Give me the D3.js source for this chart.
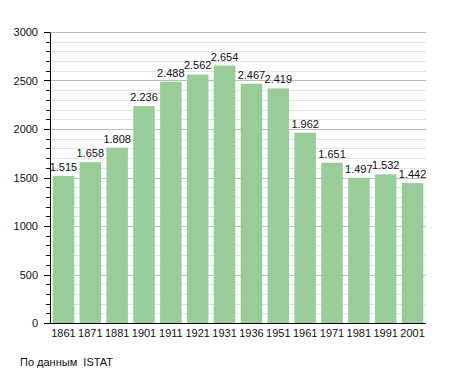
<!DOCTYPE html>
<html>
<head>
<meta charset="utf-8">
<script src="https://cdn.jsdelivr.net/npm/d3@7"></script>
<style>
  body { margin: 0; background: #fff; }
  svg text { font-family: "Liberation Sans", Arial, sans-serif; fill: #111; }
</style>
</head>
<body>
<div id="chart"></div>
<script>
// population by census year
var years = ["1861","1871","1881","1901","1911","1921","1931","1936","1951","1961","1971","1981","1991","2001"];
var population = [1515,1658,1808,2236,2488,2562,2654,2467,2419,1962,1651,1497,1532,1442];
var yTicks = [0,500,1000,1500,2000,2500,3000];
var sourceText = "По данным  ISTAT";

var width = 455, height = 373;
var plotLeft = 50, plotRight = 426, plotTop = 32, plotBottom = 323;

var svg = d3.select("#chart").append("svg")
    .attr("width", width).attr("height", height);

var x = d3.scaleBand().domain(years).range([plotLeft, plotRight]).paddingInner(0.2).paddingOuter(0.1);
var y = d3.scaleLinear().domain([0, 3000]).range([plotBottom, plotTop]);

// minor grid every 100
svg.append("g").selectAll("line")
  .data(d3.range(100, 3001, 100).filter(function(d){ return d % 500 != 0; }))
  .enter().append("line")
  .attr("x1", plotLeft).attr("x2", plotRight)
  .attr("y1", function(d){ return Math.round(y(d)) + 0.5; })
  .attr("y2", function(d){ return Math.round(y(d)) + 0.5; })
  .attr("stroke", "#e4e4e4");

// major grid
svg.append("g").selectAll("line")
  .data(yTicks.slice(1))
  .enter().append("line")
  .attr("x1", plotLeft).attr("x2", plotRight)
  .attr("y1", function(d){ return Math.round(y(d)) + 0.5; })
  .attr("y2", function(d){ return Math.round(y(d)) + 0.5; })
  .attr("stroke", "#bdbdbd");

// bars
svg.append("g").selectAll("rect")
  .data(population)
  .enter().append("rect")
  .attr("x", function(d, i){ return x(years[i]); })
  .attr("width", x.bandwidth())
  .attr("y", function(d){ return y(d); })
  .attr("height", function(d){ return plotBottom - y(d); })
  .attr("fill", "#99cc99");

var fmt = function(v){ return d3.format(",")(v).replace(/,/g, "."); };

svg.append("g").selectAll("text")
  .data(population)
  .enter().append("text")
  .attr("x", function(d, i){ return x(years[i]) + x.bandwidth()/2; })
  .attr("y", function(d){ return y(d) - 5; })
  .attr("text-anchor", "middle")
  .style("font-size", "11px")
  .text(fmt);

// y axis with minor ticks
var yAxis = d3.axisLeft(y).tickValues(yTicks).tickFormat(d3.format("d")).tickSize(0).tickPadding(12);
var gy = svg.append("g").attr("transform", "translate(" + plotLeft + ",0)").call(yAxis);
gy.select(".domain").attr("stroke", "#000");
gy.selectAll("text").style("font-size", "11px");
svg.append("g").selectAll("line")
  .data(d3.range(0, 3001, 100))
  .enter().append("line")
  .attr("x1", function(d){ return d % 500 == 0 ? plotLeft - 6 : plotLeft - 4; }).attr("x2", plotLeft)
  .attr("y1", function(d){ return Math.round(y(d)) + 0.5; })
  .attr("y2", function(d){ return Math.round(y(d)) + 0.5; })
  .attr("stroke", "#000");

// x axis
var xAxis = d3.axisBottom(x).tickSize(0).tickPadding(6);
var gx = svg.append("g").attr("transform", "translate(0," + (plotBottom + 0.5) + ")").call(xAxis);
gx.select(".domain").attr("stroke", "#000").attr("d", "M" + plotLeft + ",0H" + plotRight);
gx.selectAll("text").style("font-size", "11px");

svg.append("text")
  .attr("x", 20).attr("y", 366)
  .style("font-size", "11px")
  .style("white-space", "pre")
  .text(sourceText);
</script>
</body>
</html>
